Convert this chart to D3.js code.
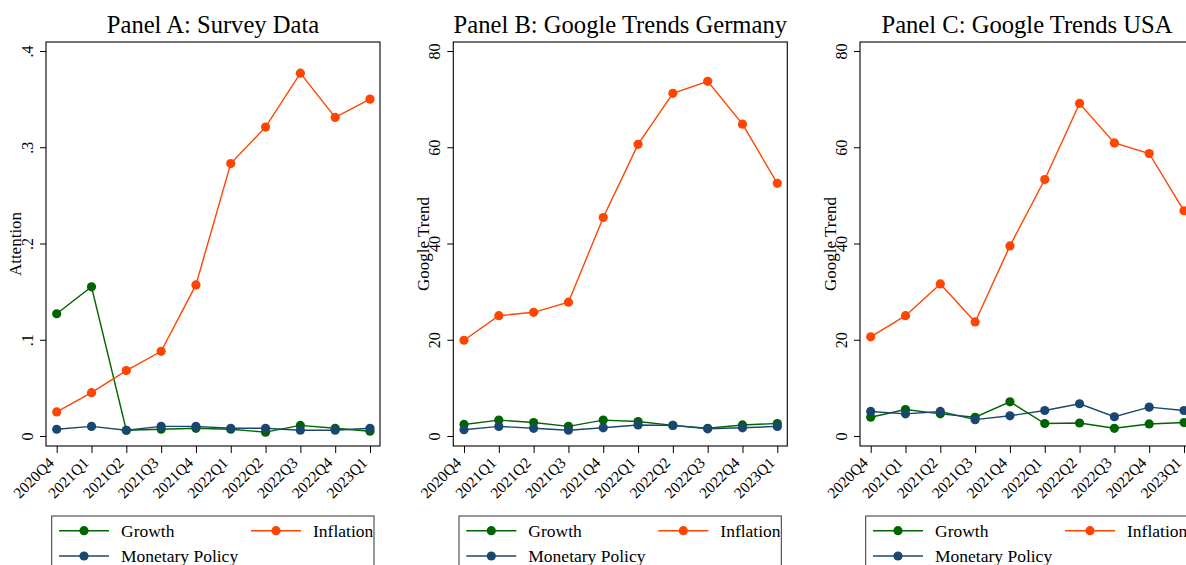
<!DOCTYPE html>
<html><head><meta charset="utf-8">
<script src="https://cdn.jsdelivr.net/npm/d3@7"></script>
<style>body{margin:0;background:#fff}svg{display:block}text{font-family:"Liberation Serif","DejaVu Serif",serif;fill:#000}</style>
</head><body>
<svg id="c" width="1186" height="565"></svg>
<script>
const quarters = ["2020Q4","2021Q1","2021Q2","2021Q3","2021Q4","2022Q1","2022Q2","2022Q3","2022Q4","2023Q1"];
const panelTitles = ["Panel A: Survey Data","Panel B: Google Trends Germany","Panel C: Google Trends USA"];
const yTitles = ["Attention","Google Trend","Google Trend"];
const yTicksA = [0,0.1,0.2,0.3,0.4];
const yTickLabelsA = ["0",".1",".2",".3",".4"];
const yTicksBC = [0,20,40,60,80];
const yTickLabelsBC = ["0","20","40","60","80"];
const seriesNames = ["Growth","Inflation","Monetary Policy"];
const seriesColors = ["#006400","#ff4500","#1a476f"];

const growthA = [0.127,0.155,0.006,0.007,0.008,0.007,0.004,0.011,0.008,0.005];
const inflationA = [0.025,0.045,0.068,0.088,0.157,0.283,0.321,0.377,0.331,0.350];
const monetaryA = [0.007,0.010,0.006,0.010,0.010,0.008,0.008,0.006,0.006,0.008];

const growthB = [2.4,3.3,2.8,2.0,3.3,3.0,2.2,1.6,2.3,2.6];
const inflationB = [19.9,25.0,25.7,27.8,45.4,60.6,71.2,73.7,64.8,52.5];
const monetaryB = [1.3,2.0,1.6,1.2,1.7,2.3,2.2,1.5,1.7,2.0];

const growthC = [3.9,5.5,4.6,3.9,7.1,2.6,2.7,1.6,2.5,2.8];
const inflationC = [20.6,25.0,31.6,23.7,39.5,53.3,69.1,60.9,58.7,46.8];
const monetaryC = [5.1,4.6,5.1,3.4,4.2,5.3,6.7,4.0,6.0,5.3];

const panels = [
  {title: panelTitles[0], ytitle: yTitles[0], ticks: yTicksA, labels: yTickLabelsA, ymax: 0.4, series: [growthA, inflationA, monetaryA]},
  {title: panelTitles[1], ytitle: yTitles[1], ticks: yTicksBC, labels: yTickLabelsBC, ymax: 80, series: [growthB, inflationB, monetaryB]},
  {title: panelTitles[2], ytitle: yTitles[2], ticks: yTicksBC, labels: yTickLabelsBC, ymax: 80, series: [growthC, inflationC, monetaryC]}
];

const svg = d3.select("#c");
const panelOffset = [0, 407.3, 814];
const frameL = 46, frameR = 380, frameT = 42, frameB = 446;

panels.forEach((p, i) => {
  const g = svg.append("g").attr("transform", `translate(${panelOffset[i]},0)`);
  const x = d3.scalePoint().domain(quarters).range([56.7, 370]);
  const y = d3.scaleLinear().domain([0, p.ymax]).range([436, 51]);

  g.append("rect").attr("x", frameL).attr("y", frameT).attr("width", frameR - frameL).attr("height", frameB - frameT)
    .attr("fill", "#fff").attr("stroke", "#000").attr("stroke-width", 1.1);

  // y axis
  const ya = g.append("g").attr("transform", `translate(${frameL},0)`)
    .call(d3.axisLeft(y).tickValues(p.ticks).tickFormat((d, k) => p.labels[k]).tickSize(6).tickPadding(0));
  ya.select(".domain").remove();
  ya.selectAll("line").attr("stroke", "#000");
  ya.selectAll(".tick text").attr("text-anchor", "middle").attr("font-size", 16)
    .attr("font-family", "Liberation Serif").attr("x", 0).attr("y", 0).attr("dy", 0)
    .attr("transform", "translate(-13.5,0) rotate(-90)");

  // x axis
  const xa = g.append("g").attr("transform", `translate(0,${frameB})`)
    .call(d3.axisBottom(x).tickSize(7).tickPadding(0));
  xa.select(".domain").remove();
  xa.selectAll("line").attr("stroke", "#000");
  xa.selectAll(".tick text").attr("text-anchor", "end").attr("font-size", 15.5).attr("font-family", "Liberation Serif")
    .attr("x", 0).attr("y", 0).attr("dy", "0.35em")
    .attr("transform", "translate(-6,14) rotate(-45)");

  // title
  g.append("text").attr("x", (frameL + frameR) / 2).attr("y", 33).attr("text-anchor", "middle")
    .attr("font-size", 24.6).text(p.title);
  // y title
  g.append("text").attr("transform", `translate(${i === 0 ? 21 : 22},244) rotate(-90)`).attr("text-anchor", "middle")
    .attr("font-size", 17).text(p.ytitle);

  // series
  const line = d3.line().x((d, k) => x(quarters[k])).y(d => y(d));
  p.series.forEach((s, k) => {
    g.append("path").datum(s).attr("d", line).attr("fill", "none").attr("stroke", seriesColors[k]).attr("stroke-width", 1.4);
    g.selectAll(null).data(s).enter().append("circle")
      .attr("cx", (d, j) => x(quarters[j])).attr("cy", d => y(d)).attr("r", 4.6).attr("fill", seriesColors[k]);
  });

  // legend
  const lg = g.append("g");
  lg.append("rect").attr("x", 51.7).attr("y", 516).attr("width", 322.3).attr("height", 80)
    .attr("fill", "#fff").attr("stroke", "#333").attr("stroke-width", 1);
  const legPos = [[59, 530.7], [251, 530.7], [59, 556]];
  seriesNames.forEach((n, k) => {
    const [lx, ly] = legPos[k];
    lg.append("line").attr("x1", lx).attr("x2", lx + 50).attr("y1", ly).attr("y2", ly)
      .attr("stroke", seriesColors[k]).attr("stroke-width", 1.4);
    lg.append("circle").attr("cx", lx + 25).attr("cy", ly).attr("r", 4.6).attr("fill", seriesColors[k]);
    lg.append("text").attr("x", lx + 62).attr("y", ly + 6).attr("font-size", 17.5).text(n);
  });
});
</script>
</body></html>
